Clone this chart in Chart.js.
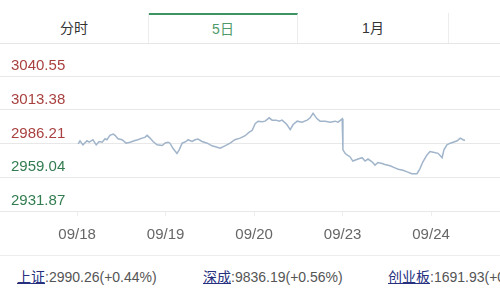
<!DOCTYPE html>
<html>
<head>
<meta charset="utf-8">
<script src="https://cdn.jsdelivr.net/npm/chart.js@4.4.1/dist/chart.umd.min.js"></script>
<style>
body { margin: 0; width: 500px; height: 300px; background: #fff; overflow: hidden; position: relative;
       font-family: "Liberation Sans", Arial, "Noto Sans CJK SC", sans-serif; }
.tabs { position: absolute; top: 13px; left: 0; width: 500px; height: 30px; border-bottom: 1px solid #e6e6e6; }
.tab { position: absolute; top: 0; height: 30px; line-height: 31px; text-align: center; font-size: 14px;
       color: #333; border-right: 1px solid #ececec; box-sizing: border-box; }
.tab.on { color: #4f9a6a; border-top: 2px solid #3d9460; line-height: 29px; }
#wrap { position: absolute; top: 43px; left: 0; width: 500px; height: 212px; }
.sep { position: absolute; top: 255px; left: 0; width: 500px; height: 1px; background: #ececec; }
.quote { position: absolute; top: 269px; font-size: 14px; line-height: 16px; color: #555; white-space: nowrap; }
.quote a { color: #26307f; text-decoration: underline; }
</style>
</head>
<body>
<div class="tabs">
    <div class="tab" style="left:0;width:149px">分时</div>
    <div class="tab on" style="left:149px;width:149px">5日</div>
    <div class="tab" style="left:298px;width:151px">1月</div>
    <div class="tab" style="left:449px;width:51px;border-right:none"></div>
</div>
<div id="wrap"><canvas id="myChart"></canvas></div>
<div class="sep"></div>
<div class="quote" style="left:17px"><a>上证</a>:2990.26(+0.44%)</div>
<div class="quote" style="left:203px"><a>深成</a>:9836.19(+0.56%)</div>
<div class="quote" style="left:388px"><a>创业板</a>:1691.93(+0.62%)</div>
<script>
'use strict';
// 5 trading days, 240 minutes each
var days = ['09/18', '09/19', '09/20', '09/23', '09/24'];
var dayStarts = [0, 240, 480, 720, 960];
var yTicks = [2931.87, 2959.04, 2986.21, 3013.38, 3040.55];
var prevClose = 2986.21;

var minutes = [
    3, 8, 16, 27, 33, 43, 52, 60, 68, 76, 81, 89, 98, 103, 111, 122, 133, 144, 155, 165,
    176, 184, 190, 198, 206, 217, 231, 239,
    247, 252, 260, 271, 277, 285, 296, 301, 312, 320, 328, 339, 353, 366, 380, 388, 401, 415,
    428, 442, 456, 466, 475,
    483, 491, 502, 510, 521, 529, 540, 548, 556, 569, 578, 586, 597, 610, 624, 632, 640, 651,
    659, 673, 686, 700, 708, 719,
    721, 727, 732, 740, 748, 762, 773, 781, 789, 800, 808, 816, 827, 835, 849, 862, 871, 884,
    895, 908, 922, 930, 938, 949, 957,
    966, 979, 990, 995, 1003, 1012, 1020, 1031, 1039, 1047, 1052
];
var prices = [
    2985.96, 2988.42, 2985.15, 2988.42, 2987.27, 2989.23, 2985.15, 2987.84, 2987.27, 2990.05,
    2989.23, 2992.75, 2993.81, 2992.75, 2990.05, 2989.23, 2986.46, 2987.27, 2988.42, 2989.23,
    2990.54, 2991.11, 2992.75, 2990.54, 2987.84, 2985.15, 2984.58, 2986.62,
    2987.27, 2986.46, 2982.37, 2978.28, 2981.06, 2986.46, 2987.84, 2989.23, 2987.84, 2989.23,
    2989.72, 2987.84, 2986.46, 2984.33, 2983.19, 2982.37, 2984.33, 2986.46, 2989.23, 2990.54,
    2992.50, 2995.20, 2996.83,
    3002.14, 3004.19, 3003.78, 3004.19, 3006.88, 3005.00, 3005.00, 3004.19, 3005.00, 3001.49,
    2997.40, 3001.49, 3004.19, 3003.37, 3005.00, 3006.88, 3010.48, 3006.07, 3004.19, 3004.19,
    3003.37, 3004.19, 3003.37, 3006.07,
    2981.06, 2978.28, 2976.98, 2975.59, 2972.07, 2973.71, 2974.77, 2972.07, 2973.71, 2971.50,
    2968.81, 2970.93, 2970.11, 2969.30, 2968.23, 2966.60, 2965.54, 2964.72, 2963.33, 2961.94,
    2961.94, 2966.03, 2971.50, 2976.98, 2979.67,
    2979.10, 2978.28, 2974.77, 2981.06, 2985.15, 2986.46, 2987.27, 2988.42, 2990.54, 2989.23,
    2988.66
];

Chart.defaults.font.family = '"Liberation Sans", Arial, sans-serif';

var points = minutes.map(function (m, i) { return { x: m, y: prices[i] }; });

var ctx = document.getElementById('myChart');
var myChart = new Chart(ctx, {
    type: 'line',
    data: {
        datasets: [{
            data: points,
            borderColor: '#a0b4ca',
            borderWidth: 1.5,
            pointRadius: 0,
            tension: 0,
            fill: false
        }]
    },
    options: {
        responsive: true,
        maintainAspectRatio: false,
        animation: false,
        layout: { padding: { left: 0, right: 0, top: 33, bottom: 1 } },
        plugins: { legend: { display: false }, tooltip: { enabled: false } },
        scales: {
            x: {
                type: 'linear',
                min: -209,
                max: 1147,
                afterBuildTicks: function (axis) {
                    axis.ticks = dayStarts.map(function (v) { return { value: v }; });
                },
                ticks: {
                    autoSkip: false,
                    maxRotation: 0,
                    padding: 10,
                    color: '#666',
                    font: { size: 15 },
                    callback: function (value) {
                        var i = dayStarts.indexOf(value);
                        return i >= 0 ? days[i] : '';
                    }
                },
                grid: { drawOnChartArea: false, tickLength: 5, color: '#eeeeee' },
                border: { display: false }
            },
            y: {
                min: yTicks[0],
                max: yTicks[yTicks.length - 1],
                afterBuildTicks: function (axis) {
                    axis.ticks = yTicks.map(function (v) { return { value: v }; });
                },
                afterFit: function (axis) { axis.width = 0; },
                ticks: {
                    mirror: true,
                    padding: 11,
                    labelOffset: -10,
                    font: { size: 15 },
                    color: function (c) {
                        return c.tick.value >= prevClose ? '#a8413f' : '#327d4f';
                    },
                    callback: function (value) { return value.toFixed(2); }
                },
                grid: { drawTicks: false, color: '#e8e8e8', lineWidth: 1 },
                border: { display: false }
            }
        }
    }
});
</script>
</body>
</html>
